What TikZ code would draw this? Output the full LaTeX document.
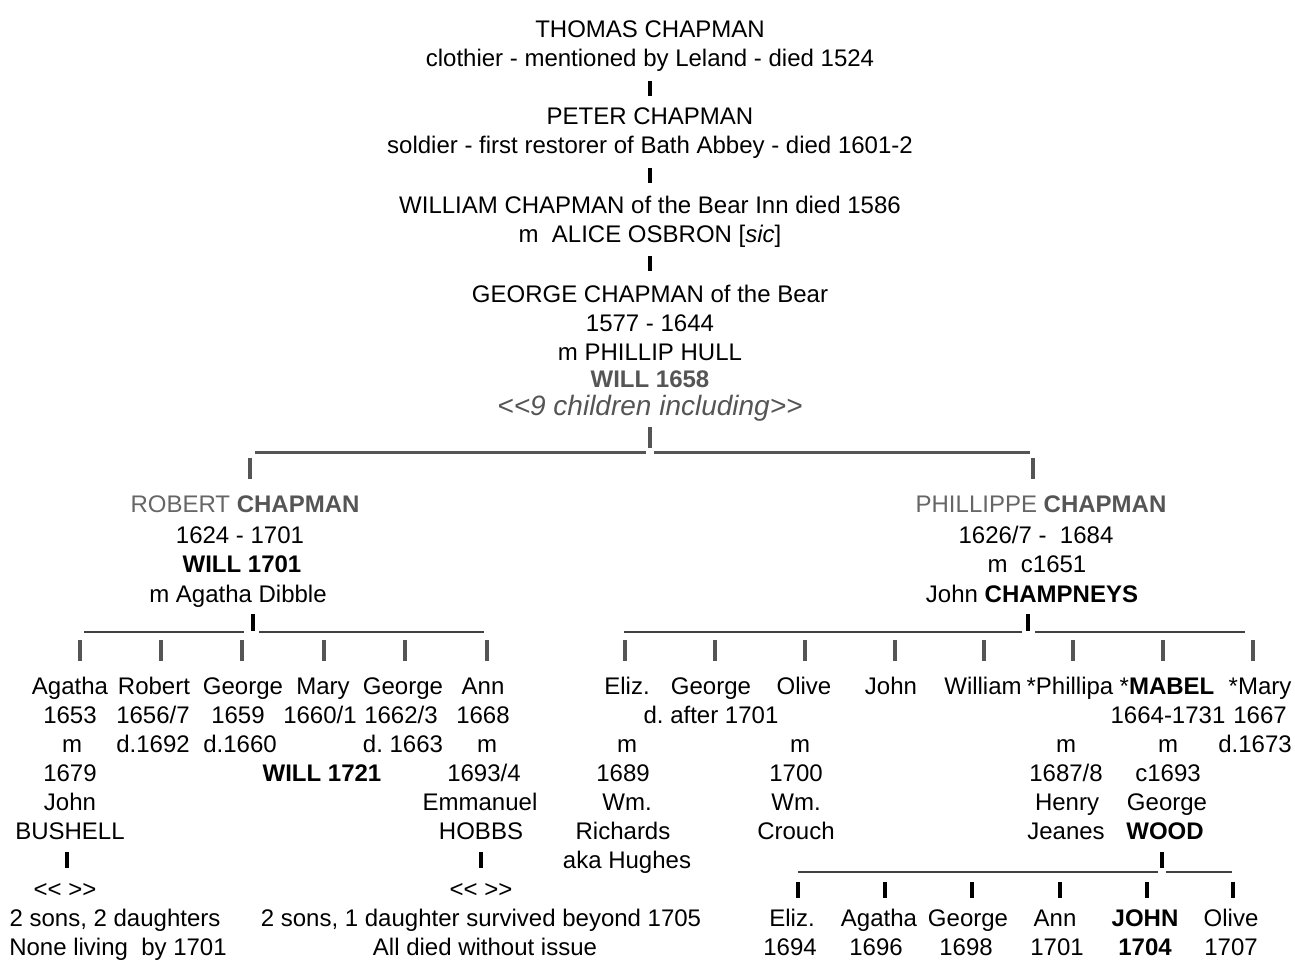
\documentclass[tikz,border=0pt]{standalone}
\usepackage{fontspec}
\setmainfont{Liberation Sans}
\frenchspacing
\definecolor{gr}{HTML}{555555}
\definecolor{gt}{HTML}{666666}
\begin{document}
\frenchspacing
\begin{tikzpicture}[x=1pt,y=-1pt,
  t/.style={anchor=base, inner sep=0pt, font=\fontsize{24}{29}\selectfont},
  bar/.style={line width=4.5pt, black},
  gbar/.style={line width=4.5pt, gr},
  hl/.style={line width=3pt, gr},
  thinl/.style={line width=1.5pt, black!75}]
\useasboundingbox (0,0) rectangle (1295,960);
% ---- ancestors
\node[t] (thomas) at (650,38) {THOMAS CHAPMAN};
\node[t] (thomasd) at (650,67) {clothier - mentioned by Leland - died 1524};
\node[t] (peter) at (650,125) {PETER CHAPMAN};
\node[t] (peterd) at (650,154) {soldier - first restorer of Bath Abbey - died 1601-2};
\node[t] (william) at (650,213) {WILLIAM CHAPMAN of the Bear Inn died 1586};
\node[t] (alice) at (650,242) {m\ \ ALICE OSBRON [\textit{sic}]};
\node[t] (george) at (650,302) {GEORGE CHAPMAN of the Bear};
\node[t] (georged) at (650,331) {1577 - 1644};
\node[t] (hull) at (650,360) {m PHILLIP HULL};
\node[t, text=gr, font=\fontsize{24}{29}\selectfont\bfseries] (will58) at (650,387) {WILL 1658};
\node[t, text=gr, font=\fontsize{28}{32}\selectfont\itshape] (nine) at (650,415) {<\kern0pt<9 children including>\kern0pt>};
\coordinate (a1) at (650,81); \coordinate (a2) at (650,96);
\coordinate (b1) at (650,168); \coordinate (b2) at (650,183);
\coordinate (c1) at (650,256); \coordinate (c2) at (650,271);
\draw[bar] (a1) -- (a2);
\draw[bar] (b1) -- (b2);
\draw[bar] (c1) -- (c2);
\coordinate (d1) at (650,427); \coordinate (d2) at (650,448);
\draw[gbar] (d1) -- (d2);
\coordinate (h1) at (255,452); \coordinate (h2) at (646,452);
\coordinate (h3) at (654,452); \coordinate (h4) at (1030,452);
\draw[hl] (h1) -- (h2);
\draw[hl] (h3) -- (h4);
\coordinate (e1) at (250,458); \coordinate (e2) at (250,479);
\coordinate (f1) at (1033,458); \coordinate (f2) at (1033,479);
\draw[gbar] (e1) -- (e2);
\draw[gbar] (f1) -- (f2);
% ---- Robert
\node[t] (robert) at (245,512) {\textcolor{gt}{ROBERT} \textcolor{gr}{\bfseries CHAPMAN}};
\node[t] (robert2) at (240,543) {1624 - 1701};
\node[t, font=\fontsize{24}{29}\selectfont\bfseries] (robert3) at (242,572) {WILL 1701};
\node[t] (robert4) at (238,602) {m Agatha Dibble};
% ---- Phillippe
\node[t] (phil) at (1041,512) {\textcolor{gt}{PHILLIPPE} \textcolor{gr}{\bfseries CHAPMAN}};
\node[t] (phil2) at (1036,543) {1626/7 -\ \ 1684};
\node[t] (phil3) at (1037,572) {m\ \ c1651};
\node[t] (phil4) at (1032,602) {John \textbf{CHAMPNEYS}};
% ---- Robert's line
\coordinate (r1) at (253,614); \coordinate (r2) at (253,631);
\draw[bar] (r1) -- (r2);
\coordinate (rl1) at (84,632); \coordinate (rl2) at (244,632);
\coordinate (rl3) at (259,632); \coordinate (rl4) at (484,632);
\draw[thinl] (rl1) -- (rl2);
\draw[thinl] (rl3) -- (rl4);
\foreach \x [count=\i] in {80,161,242,324,405,487} {
  \coordinate (lb\i a) at (\x,640); \coordinate (lb\i b) at (\x,661);
  \draw[gbar] (lb\i a) -- (lb\i b);
}
% ---- Phillippe's line
\coordinate (p1) at (1028,614); \coordinate (p2) at (1028,631);
\draw[bar] (p1) -- (p2);
\coordinate (pl1) at (624,632); \coordinate (pl2) at (1022,632);
\coordinate (pl3) at (1035,632); \coordinate (pl4) at (1245,632);
\draw[thinl] (pl1) -- (pl2);
\draw[thinl] (pl3) -- (pl4);
\foreach \x [count=\i] in {625,715,805,895,984,1073,1163,1253} {
  \coordinate (rb\i a) at (\x,640); \coordinate (rb\i b) at (\x,661);
  \draw[gbar] (rb\i a) -- (rb\i b);
}
% ---- Robert's children
\node[t] (ag1) at (70,694) {Agatha};
\node[t] (ag2) at (70,723) {1653};
\node[t] (ag3) at (72,752) {m};
\node[t] (ag4) at (70,781) {1679};
\node[t] (ag5) at (70,810) {John};
\node[t] (ag6) at (70,839) {BUSHELL};
\node[t] (ag8) at (65,897) {<\kern0pt<\ >\kern0pt>};
\node[t] (ag9) at (115,926) {2 sons, 2 daughters};
\node[t] (ag10) at (118,955) {None living\ \ by 1701};
\coordinate (ab1) at (67,852); \coordinate (ab2) at (67,868);
\draw[bar] (ab1) -- (ab2);
\node[t] (ro1) at (154,694) {Robert};
\node[t] (ro2) at (153,723) {1656/7};
\node[t] (ro3) at (153,752) {d.1692};
\node[t] (ge1) at (243,694) {George};
\node[t] (ge2) at (238,723) {1659};
\node[t] (ge3) at (240,752) {d.1660};
\node[t] (ma1) at (323,694) {Mary};
\node[t] (ma2) at (320,723) {1660/1};
\node[t, font=\fontsize{24}{29}\selectfont\bfseries] (ma4) at (322,781) {WILL 1721};
\node[t] (gb1) at (403,694) {George};
\node[t] (gb2) at (401,723) {1662/3};
\node[t] (gb3) at (403,752) {d. 1663};
\node[t] (an1) at (483,694) {Ann};
\node[t] (an2) at (483,723) {1668};
\node[t] (an3) at (487,752) {m};
\node[t] (an4) at (484,781) {1693/4};
\node[t] (an5) at (480,810) {Emmanuel};
\node[t] (an6) at (481,839) {HOBBS};
\node[t] (an8) at (481,897) {<\kern0pt<\ >\kern0pt>};
\node[t] (an9) at (481,926) {2 sons, 1 daughter survived beyond 1705};
\node[t] (an10) at (485,955) {All died without issue};
\coordinate (nb1) at (481,852); \coordinate (nb2) at (481,868);
\draw[bar] (nb1) -- (nb2);
% ---- Phillippe's children
\node[t] (el1) at (627,694) {Eliz.};
\node[t] (el3) at (627,752) {m};
\node[t] (el4) at (623,781) {1689};
\node[t] (el5) at (627,810) {Wm.};
\node[t] (el6) at (623,839) {Richards};
\node[t] (el7) at (627,868) {aka Hughes};
\node[t] (gc1) at (711,694) {George};
\node[t] (gc2) at (711,723) {d. after 1701};
\node[t] (ol1) at (804,694) {Olive};
\node[t] (ol3) at (800,752) {m};
\node[t] (ol4) at (796,781) {1700};
\node[t] (ol5) at (796,810) {Wm.};
\node[t] (ol6) at (796,839) {Crouch};
\node[t] (jo1) at (891,694) {John};
\node[t] (wi1) at (983,694) {William};
\node[t] (ph1) at (1070,694) {*Phillipa};
\node[t] (ph3) at (1066,752) {m};
\node[t] (ph4) at (1066,781) {1687/8};
\node[t] (ph5) at (1067,810) {Henry};
\node[t] (ph6) at (1066,839) {Jeanes};
\node[t] (mb1) at (1167,694) {*\textbf{MABEL}};
\node[t] (mb2) at (1168,723) {1664-1731};
\node[t] (mb3) at (1168,752) {m};
\node[t] (mb4) at (1168,781) {c1693};
\node[t] (mb5) at (1167,810) {George};
\node[t, font=\fontsize{24}{29}\selectfont\bfseries] (mb6) at (1165,839) {WOOD};
\node[t] (my1) at (1260,694) {*Mary};
\node[t] (my2) at (1260,723) {1667};
\node[t] (my3) at (1255,752) {d.1673};
% ---- Mabel's line
\coordinate (m1) at (1162,852); \coordinate (m2) at (1162,868);
\draw[bar] (m1) -- (m2);
\coordinate (ml1) at (798,872); \coordinate (ml2) at (1158,872);
\coordinate (ml3) at (1166,872); \coordinate (ml4) at (1232,872);
\draw[thinl] (ml1) -- (ml2);
\draw[thinl] (ml3) -- (ml4);
\foreach \x [count=\i] in {798,885,972,1060,1147,1233} {
  \coordinate (kb\i a) at (\x,882); \coordinate (kb\i b) at (\x,898);
  \draw[bar] (kb\i a) -- (kb\i b);
}
\node[t] (k1) at (792,926) {Eliz.};
\node[t] (k1y) at (790,955) {1694};
\node[t] (k2) at (879,926) {Agatha};
\node[t] (k2y) at (876,955) {1696};
\node[t] (k3) at (968,926) {George};
\node[t] (k3y) at (966,955) {1698};
\node[t] (k4) at (1055,926) {Ann};
\node[t] (k4y) at (1057,955) {1701};
\node[t, font=\fontsize{24}{29}\selectfont\bfseries] (k5) at (1145,926) {JOHN};
\node[t, font=\fontsize{24}{29}\selectfont\bfseries] (k5y) at (1145,955) {1704};
\node[t] (k6) at (1231,926) {Olive};
\node[t] (k6y) at (1231,955) {1707};
\end{tikzpicture}
\end{document}
